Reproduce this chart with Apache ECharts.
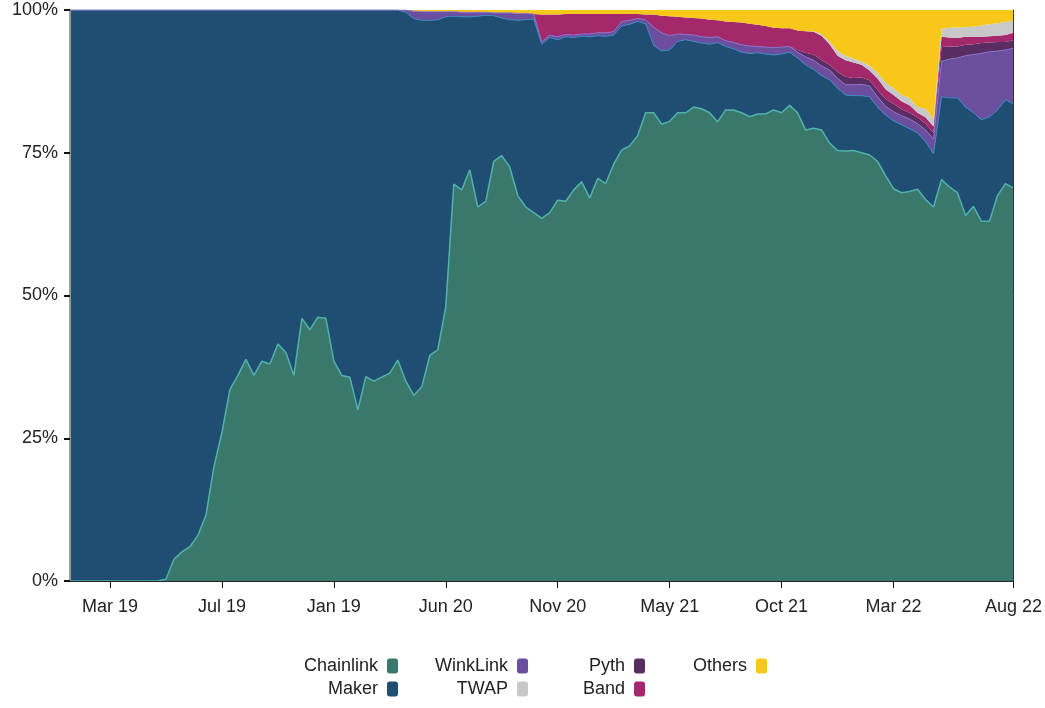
<!DOCTYPE html>
<html>
<head>
<meta charset="utf-8">
<title>Oracle share</title>
<script src="https://cdn.jsdelivr.net/npm/echarts@6/dist/echarts.min.js"></script>
<style>
  html, body { margin: 0; padding: 0; background: #fff; }
  #chart { width: 1045px; height: 708px; }
</style>
</head>
<body>
<div id="chart"></div>
<script>
// x axis: one point per step, labels only on a few of them
var tickIdx = [5, 19, 33, 47, 61, 75, 89, 103, 118];
var tickLabels = ['Mar 19', 'Jul 19', 'Jan 19', 'Jun 20', 'Nov 20', 'May 21', 'Oct 21', 'Mar 22', 'Aug 22'];

// share of each oracle, in %
var chainlink = [
  0, 0, 0, 0, 0, 0, 0, 0, 0, 0, 0, 0,
  0.3, 3.8, 5.1, 6, 8, 11.5, 20, 26, 33.5, 36, 38.8, 36, 38.5, 38, 41.5, 40, 36, 46,
  44, 46.2, 46, 38.5, 36, 35.7, 30, 35.8, 35, 35.7, 36.4, 38.7, 35, 32.5, 34, 39.5, 40.5, 48,
  69.5, 68.5, 72, 65.5, 66.5, 73.5, 74.5, 72.5, 67.5, 65.5, 64.5, 63.5, 64.5, 66.7, 66.5, 68.5,
  69.9, 67.1, 70.5, 69.6, 73, 75.5, 76.2, 78, 82, 82, 80, 80.5, 82, 82, 83, 82.7, 82, 80.4,
  82.5, 82.5, 82, 81.3, 81.8, 81.8, 82.5, 82, 83.3, 82, 79, 79.3, 79, 76.7, 75.4, 75.3, 75.4,
  75, 74.6, 73.5, 71, 68.7, 68, 68.2, 68.6, 66.8, 65.5, 70.3, 69, 68, 64, 65.6, 63, 63, 67.5,
  69.6, 68.8
];
var maker = [
  100, 100, 100, 100, 100, 100, 100, 100, 100, 100, 100, 100,
  99.7, 96.2, 94.9, 94, 92, 88.5, 80, 74, 66.5, 64, 61.2, 64, 61.5, 62, 58.5, 60, 64, 54,
  56, 53.8, 54, 61.5, 64, 64.3, 70, 64.2, 65, 64.3, 63.6, 61.3, 64.6, 66, 64.2, 58.7, 57.8, 50.8,
  29.4, 30.3, 26.8, 33.4, 32.6, 25.5, 24.1, 25.8, 30.7, 32.8, 33.9, 30.5, 30.7, 28.1, 28.8, 26.7,
  25.5, 28.2, 25, 25.8, 22.6, 21.7, 21.3, 20, 15.6, 11.8, 12.8, 12.5, 12.5, 12.8, 11.5, 11.5, 12, 13.9,
  11.1, 10.7, 10.6, 11.1, 10.7, 10.5, 9.6, 10.3, 9.3, 9.6, 11.4, 10.3, 9.5, 11.1, 10.9, 9.8, 9.6,
  10, 10.2, 9.5, 10.6, 11.9, 11.9, 11, 9.9, 10.2, 9.3, 14.5, 15.6, 16.6, 19, 16.4, 17.8, 18.3, 15,
  14.7, 14.7
];
var winkLink = [
  0, 0, 0, 0, 0, 0, 0, 0, 0, 0, 0, 0,
  0, 0, 0, 0, 0, 0, 0, 0, 0, 0, 0, 0, 0, 0, 0, 0, 0, 0,
  0, 0, 0, 0, 0, 0, 0, 0, 0, 0, 0, 0, 0.4, 1.3, 1.5, 1.5, 1.4, 0.9,
  0.8, 0.8, 0.8, 0.7, 0.5, 0.5, 0.9, 1.2, 1.2, 1.1, 0.9, 0.4, 0.4, 0.5, 0.4, 0.4,
  0.4, 0.5, 0.5, 0.6, 0.6, 0.8, 0.7, 0.5, 0.7, 3.2, 3.2, 2.5, 1.3, 0.9, 1.1, 1.1, 1.2, 1.0,
  1.0, 1.1, 1.3, 1.3, 1.1, 1.2, 1.3, 1.2, 1.0, 1.0, 1.4, 1.6, 1.7, 1.7, 1.7, 1.8, 1.9,
  2.0, 1.9, 1.8, 1.5, 1.6, 1.6, 1.7, 1.6, 2.0, 2.6, 6.2, 6.8, 7.0, 9.0, 10.2, 11.6, 11.4, 10.3,
  8.7, 9.8
];
var pyth = [
  0, 0, 0, 0, 0, 0, 0, 0, 0, 0, 0, 0,
  0, 0, 0, 0, 0, 0, 0, 0, 0, 0, 0, 0, 0, 0, 0, 0, 0, 0,
  0, 0, 0, 0, 0, 0, 0, 0, 0, 0, 0, 0, 0, 0, 0, 0, 0, 0,
  0, 0, 0, 0, 0, 0, 0, 0, 0, 0, 0, 0, 0, 0, 0, 0,
  0, 0, 0, 0, 0, 0, 0, 0, 0, 0, 0, 0, 0, 0, 0, 0, 0, 0,
  0, 0, 0, 0, 0, 0, 0, 0, 0, 0.4, 0.7, 1.0, 1.0, 0.9, 1.2, 1.4, 1.2,
  1.2, 1.0, 1.2, 1.3, 1.4, 1.1, 1.1, 1.1, 1.1, 1.1, 2.5, 2.2, 2.0, 1.9, 1.8, 1.8, 1.6, 1.6,
  1.4, 1.4
];
var band = [
  0, 0, 0, 0, 0, 0, 0, 0, 0, 0, 0, 0,
  0, 0, 0, 0, 0, 0, 0, 0, 0, 0, 0, 0, 0, 0, 0, 0, 0, 0,
  0, 0, 0, 0, 0, 0, 0, 0, 0, 0, 0, 0, 0, 0, 0, 0, 0, 0,
  0, 0, 0, 0, 0, 0, 0, 0, 0, 0, 0, 4.8, 3.6, 3.9, 3.6, 3.7,
  3.5, 3.5, 3.3, 3.3, 3.1, 1.3, 1.1, 0.8, 0.9, 2.2, 3.0, 3.4, 3.0, 3.0, 3.0, 3.2, 3.1, 2.9,
  3.4, 3.6, 3.9, 3.9, 3.8, 3.7, 3.5, 3.3, 3.2, 3.4, 3.8, 4.0, 4.3, 3.6, 2.8, 2.9, 2.7,
  2.2, 1.7, 2.0, 1.7, 1.5, 1.4, 1.3, 0.8, 1.1, 1.1, 1.8, 1.6, 1.5, 1.4, 1.3, 1.1, 1.1, 1.1,
  1.2, 1.3
];
var twap = [
  0, 0, 0, 0, 0, 0, 0, 0, 0, 0, 0, 0,
  0, 0, 0, 0, 0, 0, 0, 0, 0, 0, 0, 0, 0, 0, 0, 0, 0, 0,
  0, 0, 0, 0, 0, 0, 0, 0, 0, 0, 0, 0, 0, 0, 0, 0, 0, 0,
  0, 0, 0, 0, 0, 0, 0, 0, 0, 0, 0, 0, 0, 0, 0, 0,
  0, 0, 0, 0, 0, 0, 0, 0, 0, 0, 0, 0, 0, 0, 0, 0, 0, 0,
  0, 0, 0, 0, 0, 0, 0, 0, 0, 0, 0, 0.1, 0.3, 0.5, 0.8, 0.8, 0.7,
  0.6, 0.9, 1.0, 1.2, 1.2, 1.1, 1.3, 1.0, 1.5, 1.4, 1.4, 1.7, 1.9, 1.7, 1.8, 2.0, 2.1, 2.2,
  2.3, 2.2
];
var others = [
  0, 0, 0, 0, 0, 0, 0, 0, 0, 0, 0, 0,
  0, 0, 0, 0, 0, 0, 0, 0, 0, 0, 0, 0, 0, 0, 0, 0, 0, 0,
  0, 0, 0, 0, 0, 0, 0, 0, 0, 0, 0, 0, 0, 0.2, 0.3, 0.3, 0.3, 0.3,
  0.3, 0.4, 0.4, 0.4, 0.4, 0.5, 0.5, 0.5, 0.6, 0.6, 0.7, 0.8, 0.8, 0.8, 0.7, 0.7,
  0.7, 0.7, 0.7, 0.7, 0.7, 0.7, 0.7, 0.7, 0.8, 0.8, 1.0, 1.1, 1.2, 1.3, 1.4, 1.5, 1.7, 1.8,
  2.0, 2.1, 2.2, 2.4, 2.6, 2.8, 3.1, 3.2, 3.2, 3.6, 3.7, 3.7, 4.2, 5.5, 7.2, 8.0, 8.5,
  9.0, 9.7, 11.0, 12.7, 13.7, 14.9, 15.4, 17.0, 17.3, 19.0, 3.3, 3.1, 3.0, 3.0, 2.9, 2.7, 2.5, 2.3,
  2.1, 1.8
];

var categories = [];
for (var i = 0; i < chainlink.length; i++) {
  categories.push(i);
}

var FONT = "'Liberation Sans Narrow', 'Liberation Sans', sans-serif";

//某一个系列的面积图
function areaSeries(name, data, color, lineColor, lineWidth) {
  return {
    name: name,
    type: 'line',
    stack: 'share',
    data: data,
    symbol: 'none',
    smooth: false,
    itemStyle: { color: color },
    lineStyle: { color: lineColor, width: lineWidth },
    areaStyle: { color: color, opacity: 1 },
    emphasis: { disabled: true },
    z: 2
  };
}

//图例：每项一个，文字在左、色块在右
function legendItem(name, right, top) {
  return {
    data: [name],
    align: 'right',
    right: right,
    top: top,
    padding: 0,
    itemWidth: 11,
    itemHeight: 15,
    icon: 'roundRect',
    selectedMode: false,
    textStyle: { fontFamily: FONT, fontSize: 18, color: '#222', padding: [0, 4, 0, 0] }
  };
}

var chart = echarts.init(document.getElementById('chart'));
chart.setOption({
  animation: false,
  backgroundColor: '#fff',
  grid: { left: 70, right: 31, top: 10, bottom: 127, containLabel: false },
  legend: [
    legendItem('Chainlink', 647, 657),
    legendItem('Maker', 647, 680),
    legendItem('WinkLink', 517, 657),
    legendItem('TWAP', 517, 680),
    legendItem('Pyth', 400, 657),
    legendItem('Band', 400, 680),
    legendItem('Others', 278, 657)
  ],
  xAxis: [{
    type: 'category',
    data: categories,
    boundaryGap: false,
    z: 5,
    axisLine: { lineStyle: { color: '#111', width: 1 } },
    axisTick: {
      length: 7,
      lineStyle: { color: '#111' },
      interval: function (index) { return tickIdx.indexOf(index) >= 0; }
    },
    axisLabel: {
      margin: 17,
      fontFamily: FONT,
      fontSize: 18,
      color: '#222',
      interval: function (index) { return tickIdx.indexOf(index) >= 0; },
      formatter: function (value) {
        var k = tickIdx.indexOf(Number(value));
        return k >= 0 ? tickLabels[k] : '';
      }
    },
    splitLine: { show: false }
  }, {
    type: 'category',
    data: categories,
    boundaryGap: false,
    position: 'top',
    z: 5,
    axisLine: { lineStyle: { color: '#222', width: 1 } },
    axisTick: { show: false },
    axisLabel: { show: false }
  }],
  yAxis: [{
    type: 'value',
    min: 0,
    max: 100,
    interval: 25,
    z: 5,
    axisLine: { show: true, lineStyle: { color: '#9a9a9a', width: 2 } },
    axisTick: { show: true, length: 6, lineStyle: { color: '#111', width: 2 } },
    axisLabel: {
      margin: 12,
      fontFamily: FONT,
      fontSize: 18,
      color: '#222',
      formatter: '{value}%'
    },
    splitLine: { show: false }
  }, {
    type: 'value',
    min: 0,
    max: 100,
    position: 'right',
    z: 5,
    axisLine: { show: true, lineStyle: { color: '#333', width: 1 } },
    axisTick: { show: false },
    axisLabel: { show: false },
    splitLine: { show: false }
  }],
  series: [
    areaSeries('Chainlink', chainlink, '#3a786c', '#4fb3ac', 1.5),
    areaSeries('Maker', maker, '#1f4e72', '#3a86bf', 1),
    areaSeries('WinkLink', winkLink, '#6b4f9e', '#8b70c8', 1),
    areaSeries('Pyth', pyth, '#5a2d62', '#5a2d62', 0),
    areaSeries('Band', band, '#a3286c', '#a3286c', 0),
    areaSeries('TWAP', twap, '#c8c8c8', '#c8c8c8', 0),
    areaSeries('Others', others, '#f7c71a', '#f7c71a', 0)
  ]
});
</script>
</body>
</html>
